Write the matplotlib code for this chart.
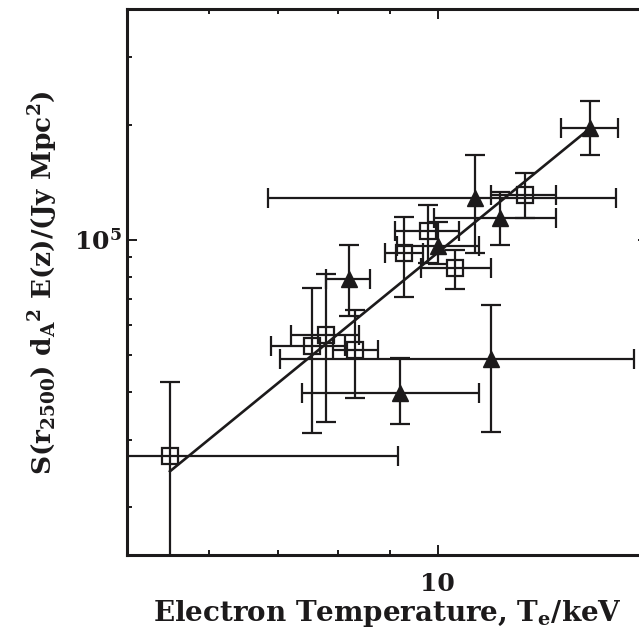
import numpy as np
import matplotlib
matplotlib.use("Agg")
import matplotlib.pyplot as plt
from matplotlib.ticker import LogLocator, NullFormatter

# open squares: temperature (keV) with lower/upper bounds, scaled flux with bounds
sq_T = [5.50, 7.55, 7.79, 8.32, 9.27, 9.78, 10.39, 12.16]
sq_T_lo = [1.85, 6.89, 7.20, 7.91, 8.89, 9.09, 9.63, 11.27]
sq_T_hi = [9.15, 8.13, 8.39, 8.75, 9.67, 10.48, 11.26, 13.03]
sq_S = [27300, 52900, 56500, 51500, 92400, 105600, 84200, 131100]
sq_S_lo = [12000, 31300, 33500, 38500, 71000, 86800, 74400, 113900]
sq_S_hi = [42600, 75000, 81600, 65500, 114900, 123300, 94300, 149900]

# filled triangles
tr_T = [8.20, 10.00, 10.88, 11.49, 9.19, 11.27, 14.07]
tr_T_lo = [7.80, 9.13, 6.84, 9.93, 7.39, 7.04, 13.18]
tr_T_hi = [8.59, 10.97, 14.89, 13.03, 10.97, 15.50, 14.96]
tr_S = [79200, 96300, 128800, 114100, 39700, 48800, 196000]
tr_S_lo = [63300, 86600, 92500, 97000, 33000, 31400, 166200]
tr_S_hi = [96900, 111400, 166700, 133400, 49100, 67400, 230200]

# power-law fit, S = FIT_NORM * (T / 10 keV)^FIT_SLOPE
FIT_SLOPE = 2.2
FIT_NORM = 9.25e4

ink = "#1c1a1b"

plt.rcParams["font.family"] = ["DejaVu Serif"]
plt.rcParams["font.weight"] = "bold"
plt.rcParams["mathtext.fontset"] = "custom"
plt.rcParams["mathtext.rm"] = "DejaVu Serif:bold"
plt.rcParams["mathtext.it"] = "DejaVu Serif:bold"
plt.rcParams["mathtext.bf"] = "DejaVu Serif:bold"
plt.rcParams["mathtext.default"] = "rm"


def errs(v, lo, hi):
    v, lo, hi = np.asarray(v), np.asarray(lo), np.asarray(hi)
    return [v - lo, hi - v]


fig = plt.figure(figsize=(6.39, 6.30), dpi=100)
ax = fig.add_axes([0.1992, 0.119, 0.8149, 0.866])

ekw = dict(ecolor=ink, elinewidth=1.6, capsize=7, capthick=1.6, linestyle="none")
ax.errorbar(sq_T, sq_S, xerr=errs(sq_T, sq_T_lo, sq_T_hi),
            yerr=errs(sq_S, sq_S_lo, sq_S_hi), marker="s", ms=11,
            mfc="none", mec=ink, mew=1.6, **ekw)
ax.errorbar(tr_T, tr_S, xerr=errs(tr_T, tr_T_lo, tr_T_hi),
            yerr=errs(tr_S, tr_S_lo, tr_S_hi), marker="^", ms=12,
            mfc=ink, mec=ink, **ekw)

allT = np.array(sq_T + tr_T)
tt = np.array([allT.min(), allT.max()])
ax.plot(tt, FIT_NORM * (tt / 10.0) ** FIT_SLOPE, color=ink, lw=1.9)

ax.set_xscale("log")
ax.set_yscale("log")
ax.set_xlim(5, 16)
ax.set_ylim(1.5e4, 4e5)

ax.set_xticks([10], labels=["10"])
ax.set_yticks([1e5], labels=[r"$10^5$"])
ax.xaxis.set_minor_locator(LogLocator(base=10, subs=np.arange(2, 10)))
ax.yaxis.set_minor_locator(LogLocator(base=10, subs=np.arange(2, 10)))
ax.xaxis.set_minor_formatter(NullFormatter())
ax.yaxis.set_minor_formatter(NullFormatter())
ax.tick_params(which="both", direction="in", top=True, right=True,
               color=ink, labelcolor=ink, labelsize=18)
ax.tick_params(which="major", length=7.2, width=1.4)
ax.tick_params(which="minor", length=3.6, width=1.4)
ax.tick_params(axis="x", which="major", pad=12)
ax.tick_params(axis="y", which="major", pad=4)
for sp in ax.spines.values():
    sp.set_linewidth(2.2)
    sp.set_color(ink)

ax.set_xlabel(r"Electron Temperature, T$_e$/keV", fontsize=20,
              fontweight="bold", color=ink, labelpad=2)
ax.set_ylabel(r"S(r$_{2500}$) d$_A$$^2$ E(z)/(Jy Mpc$^2$)", fontsize=19,
              fontweight="bold", color=ink, labelpad=10)

fig.savefig("out.png", dpi=100)
